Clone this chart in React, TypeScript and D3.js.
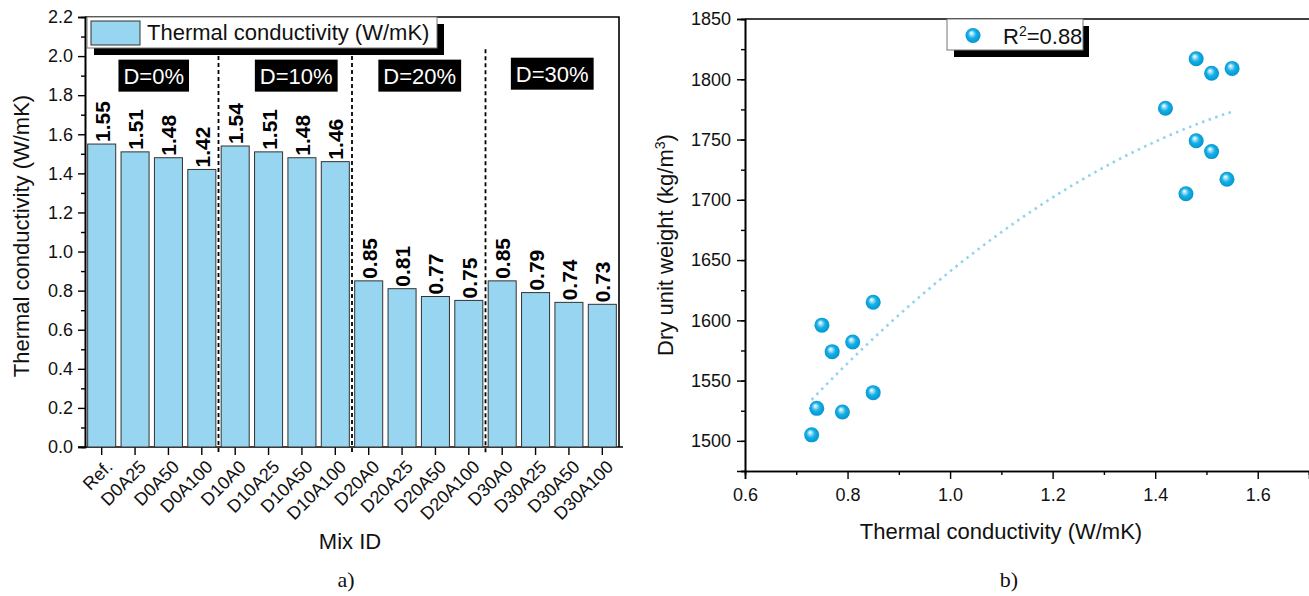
import React, { useEffect, useRef } from "react";
import * as d3 from "d3";

// left panel: thermal conductivity per mix
const mixIds = ["Ref.", "D0A25", "D0A50", "D0A100", "D10A0", "D10A25", "D10A50", "D10A100",
  "D20A0", "D20A25", "D20A50", "D20A100", "D30A0", "D30A25", "D30A50", "D30A100"];
const conductivity = [1.55, 1.51, 1.48, 1.42, 1.54, 1.51, 1.48, 1.46,
  0.85, 0.81, 0.77, 0.75, 0.85, 0.79, 0.74, 0.73];
const groupLabels = ["D=0%", "D=10%", "D=20%", "D=30%"];
const barYTicks = [0, 0.2, 0.4, 0.6, 0.8, 1.0, 1.2, 1.4, 1.6, 1.8, 2.0, 2.2];

// right panel: dry unit weight vs conductivity (same mix order)
const dryUnitWeight = [1809, 1805, 1817, 1776, 1717, 1740, 1749, 1705,
  1615, 1582, 1574, 1596, 1540, 1524, 1527, 1505];
const scatterXTicks = [0.6, 0.8, 1.0, 1.2, 1.4, 1.6];
const scatterYTicks = [1500, 1550, 1600, 1650, 1700, 1750, 1800, 1850];
const rSquared = "0.88";

const FONT = "'Liberation Sans', Arial, Helvetica, sans-serif";
const SERIF = "'Liberation Serif', 'Times New Roman', serif";
const BAR_FILL = "#97d5f0";

function quadFit(xs: number[], ys: number[]) {
  // least squares y = a + b x + c x^2
  const n = xs.length;
  let s1 = 0, s2 = 0, s3 = 0, s4 = 0, t0 = 0, t1 = 0, t2 = 0;
  for (let i = 0; i < n; i++) {
    const x = xs[i], y = ys[i];
    s1 += x; s2 += x * x; s3 += x * x * x; s4 += x * x * x * x;
    t0 += y; t1 += x * y; t2 += x * x * y;
  }
  const m = [[n, s1, s2, t0], [s1, s2, s3, t1], [s2, s3, s4, t2]];
  for (let i = 0; i < 3; i++) {
    for (let k = i + 1; k < 3; k++) {
      const f = m[k][i] / m[i][i];
      for (let j = i; j < 4; j++) m[k][j] -= f * m[i][j];
    }
  }
  const c = m[2][3] / m[2][2];
  const b = (m[1][3] - m[1][2] * c) / m[1][1];
  const a = (m[0][3] - m[0][1] * b - m[0][2] * c) / m[0][0];
  return (x: number) => a + b * x + c * x * x;
}

function styleAxis(g: any) {
  g.select(".domain").attr("stroke", "#000").attr("stroke-width", 1.6);
  g.selectAll(".tick line").attr("stroke", "#000").attr("stroke-width", 1.4);
  g.selectAll(".tick text").attr("font-family", FONT).attr("font-size", 18).attr("fill", "#111");
}

export default function App() {
  const ref = useRef<SVGSVGElement>(null);

  useEffect(() => {
    const svg = d3.select(ref.current);
    svg.selectAll("*").remove();

    const defs = svg.append("defs");
    const grad = defs.append("radialGradient").attr("id", "sphere")
      .attr("cx", "0.5").attr("cy", "0.5").attr("r", "0.55").attr("fx", "0.38").attr("fy", "0.32");
    grad.append("stop").attr("offset", "0%").attr("stop-color", "#ffffff");
    grad.append("stop").attr("offset", "20%").attr("stop-color", "#a6e2f7");
    grad.append("stop").attr("offset", "50%").attr("stop-color", "#16b0e6");
    grad.append("stop").attr("offset", "100%").attr("stop-color", "#0090cc");

    // ---------------- left: bar chart ----------------
    const L = { left: 85, right: 619, top: 17, bottom: 447 };
    const x = d3.scaleBand().domain(mixIds).range([L.left, L.right]).paddingInner(0.16).paddingOuter(0.08);
    const y = d3.scaleLinear().domain([0, 2.2]).range([L.bottom, L.top]);
    const gl = svg.append("g");

    // frame
    gl.append("path").attr("d", `M${L.left},${L.top}H${L.right}V${L.bottom}`)
      .attr("fill", "none").attr("stroke", "#000").attr("stroke-width", 1.6);

    const minorY = d3.range(0.1, 2.2, 0.2);
    gl.append("g").attr("transform", `translate(${L.left},0)`)
      .call(d3.axisLeft(y).tickValues(minorY).tickSize(4).tickFormat(() => "") as any)
      .call(styleAxis);
    gl.append("g").attr("transform", `translate(${L.left},0)`)
      .call(d3.axisLeft(y).tickValues(barYTicks).tickSize(7).tickPadding(5).tickFormat(d3.format(".1f")) as any)
      .call(styleAxis);

    const xAxis = gl.append("g").attr("transform", `translate(0,${L.bottom})`)
      .call(d3.axisBottom(x).tickSize(8).tickSizeOuter(0) as any)
      .call(styleAxis);
    xAxis.select(".domain").attr("d", `M${L.left - 7},0H${L.right + 4}`);
    xAxis.selectAll(".tick text")
      .attr("text-anchor", "end")
      .attr("dy", null)
      .attr("y", null)
      .attr("font-size", 18)
      .attr("transform", "translate(12,21) rotate(-45)");

    const bw = x.bandwidth();
    gl.append("g").selectAll("rect").data(conductivity).join("rect")
      .attr("x", (_d, i) => x(mixIds[i])!)
      .attr("y", d => y(d))
      .attr("width", bw)
      .attr("height", d => y(0) - y(d))
      .attr("fill", BAR_FILL)
      .attr("stroke", "#333")
      .attr("stroke-width", 1);

    gl.append("g").selectAll("text").data(conductivity).join("text")
      .attr("transform", (d, i) => `translate(${x(mixIds[i])! + bw / 2 + 8},${y(d) - 2}) rotate(-90)`)
      .attr("font-family", FONT).attr("font-weight", "bold").attr("font-size", 21)
      .attr("fill", "#000")
      .text(d => d.toFixed(2));

    // group separators and labels
    const step = x.step();
    const sepTop = [2.0, 2.0, 2.035];
    [4, 8, 12].forEach((k, j) => {
      const sx = x(mixIds[k])! - (step - bw) / 2;
      gl.append("line").attr("x1", sx).attr("x2", sx)
        .attr("y1", y(sepTop[j])).attr("y2", L.bottom + 6)
        .attr("stroke", "#000").attr("stroke-width", 1.8).attr("stroke-dasharray", "4,3");
    });
    const labelShift = [2, 11, 1, 0];
    const labelY = [1.9, 1.9, 1.9, 1.91];
    groupLabels.forEach((lab, j) => {
      const x0 = x(mixIds[j * 4])! - (step - bw) / 2;
      const x1 = x(mixIds[j * 4 + 3])! + bw + (step - bw) / 2;
      const cx = (x0 + x1) / 2 + labelShift[j];
      const cy = y(labelY[j]);
      const g = gl.append("g");
      const rect = g.append("rect").attr("fill", "#000");
      const t = g.append("text").attr("x", cx).attr("y", cy + 8).attr("text-anchor", "middle")
        .attr("font-family", FONT).attr("font-size", 22).attr("fill", "#fff").text(lab);
      const bb = (t.node() as SVGTextElement).getBBox();
      rect.attr("x", bb.x - 5).attr("y", cy - 16).attr("width", bb.width + 10).attr("height", 32);
    });

    // legend
    const lg = gl.append("g");
    lg.append("rect").attr("x", 94).attr("y", 24).attr("width", 350).attr("height", 31).attr("fill", "#000");
    lg.append("rect").attr("x", 87).attr("y", 17).attr("width", 350).attr("height", 31)
      .attr("fill", "#fff").attr("stroke", "#777").attr("stroke-width", 1);
    lg.append("rect").attr("x", 91).attr("y", 21).attr("width", 49).attr("height", 24)
      .attr("fill", BAR_FILL).attr("stroke", "#333").attr("stroke-width", 1);
    lg.append("text").attr("x", 147).attr("y", 40).attr("font-family", FONT).attr("font-size", 22)
      .attr("fill", "#111").text("Thermal conductivity (W/mK)");

    gl.append("text").attr("transform", `translate(29,${(L.top + L.bottom) / 2 + 4}) rotate(-90)`)
      .attr("text-anchor", "middle").attr("font-family", FONT).attr("font-size", 22).attr("fill", "#111")
      .text("Thermal conductivity (W/mK)");
    gl.append("text").attr("x", 350).attr("y", 549).attr("text-anchor", "middle")
      .attr("font-family", FONT).attr("font-size", 22).attr("fill", "#111").text("Mix ID");
    gl.append("text").attr("x", 346).attr("y", 587).attr("text-anchor", "middle")
      .attr("font-family", SERIF).attr("font-size", 22)
      .attr("fill", "#111").text("a)");

    // ---------------- right: scatter ----------------
    const R = { left: 745, right: 1309, top: 19, bottom: 471 };
    const sx = d3.scaleLinear().domain([0.6, 1.7]).range([R.left, R.right]);
    const sy = d3.scaleLinear().domain([1475, 1850]).range([R.bottom, R.top]);
    const gr = svg.append("g");

    gr.append("path").attr("d", `M${R.left},${R.top}H${R.right}`)
      .attr("stroke", "#000").attr("stroke-width", 1.6);

    gr.append("g").attr("transform", `translate(${R.left},0)`)
      .call(d3.axisLeft(sy).tickValues(d3.range(1475, 1851, 25)).tickSize(4).tickFormat(() => "") as any)
      .call(styleAxis);
    gr.append("g").attr("transform", `translate(${R.left},0)`)
      .call(d3.axisLeft(sy).tickValues(scatterYTicks).tickSize(8).tickPadding(6).tickFormat(d3.format("d")) as any)
      .call(styleAxis);
    gr.append("g").attr("transform", `translate(0,${R.bottom})`)
      .call(d3.axisBottom(sx).tickValues(d3.range(0.7, 1.75, 0.2)).tickSize(4).tickFormat(() => "") as any)
      .call(styleAxis);
    gr.append("g").attr("transform", `translate(0,${R.bottom})`)
      .call(d3.axisBottom(sx).tickValues(scatterXTicks).tickSize(8).tickPadding(9).tickFormat(d3.format(".1f")) as any)
      .call(styleAxis);

    // quadratic trend
    const fit = quadFit(conductivity, dryUnitWeight);
    const xmin = d3.min(conductivity)!, xmax = d3.max(conductivity)!;
    const xs = d3.range(0, 61).map(i => xmin + (xmax - xmin) * i / 60);
    gr.append("path")
      .attr("d", d3.line<number>().x(v => sx(v)).y(v => sy(fit(v)))(xs)!)
      .attr("fill", "none").attr("stroke", "#8fd3f0").attr("stroke-width", 2.6)
      .attr("stroke-dasharray", "2.5,4.5");

    gr.append("g").selectAll("circle").data(conductivity).join("circle")
      .attr("cx", d => sx(d))
      .attr("cy", (_d, i) => sy(dryUnitWeight[i]))
      .attr("r", 7.5)
      .attr("fill", "url(#sphere)");

    // legend
    const rg = gr.append("g");
    rg.append("rect").attr("x", 954).attr("y", 26).attr("width", 135).attr("height", 31).attr("fill", "#000");
    rg.append("rect").attr("x", 947).attr("y", 19).attr("width", 136).attr("height", 31)
      .attr("fill", "#fff").attr("stroke", "#777").attr("stroke-width", 1);
    rg.append("circle").attr("cx", 973).attr("cy", 35.5).attr("r", 7.5).attr("fill", "url(#sphere)");
    const rt = rg.append("text").attr("x", 1003).attr("y", 43.5).attr("font-family", FONT)
      .attr("font-size", 22).attr("fill", "#111");
    rt.append("tspan").text("R");
    rt.append("tspan").attr("font-size", 14).attr("dy", -8).text("2");
    rt.append("tspan").attr("dy", 8).text("=" + rSquared);

    const yl = gr.append("text").attr("transform", `translate(673,${(R.top + R.bottom) / 2}) rotate(-90)`)
      .attr("text-anchor", "middle").attr("font-family", FONT).attr("font-size", 22).attr("fill", "#111");
    yl.append("tspan").text("Dry unit weight (kg/m");
    yl.append("tspan").attr("font-size", 14).attr("dy", -8).text("3");
    yl.append("tspan").attr("dy", 8).text(")");

    gr.append("text").attr("x", 1001).attr("y", 539).attr("text-anchor", "middle")
      .attr("font-family", FONT).attr("font-size", 22).attr("fill", "#111").text("Thermal conductivity (W/mK)");
    gr.append("text").attr("x", 1009).attr("y", 587).attr("text-anchor", "middle")
      .attr("font-family", SERIF).attr("font-size", 22)
      .attr("fill", "#111").text("b)");
  }, []);

  return (
    <svg ref={ref} width={1309} height={596}
      style={{ position: "absolute", left: 0, top: 0, background: "#fff" }} />
  );
}
